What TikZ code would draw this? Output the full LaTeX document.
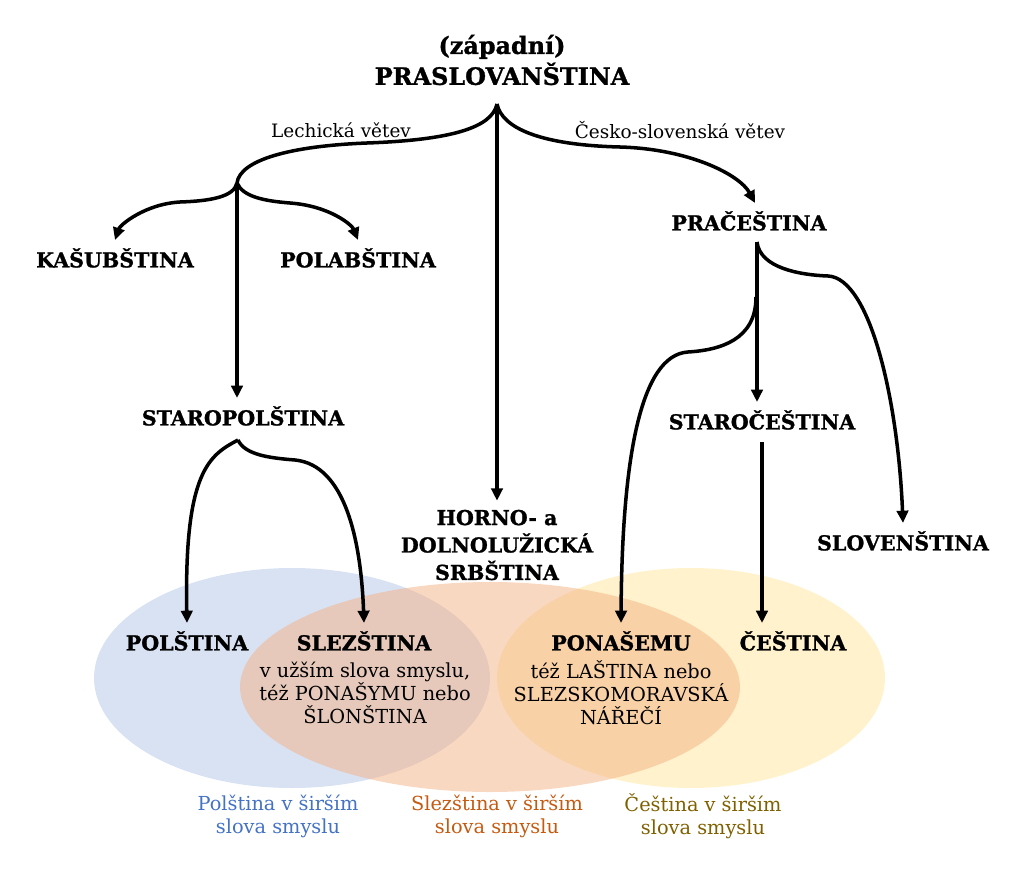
\documentclass[tikz,border=0pt]{standalone}
\usepackage{fontspec}
\setmainfont{DejaVu Serif}[BoldFeatures={FakeBold=1.2}]
\usetikzlibrary{arrows.meta}

\definecolor{polblue}{RGB}{217,226,243}
\definecolor{slezorange}{RGB}{244,177,131}
\definecolor{cesyellow}{RGB}{255,242,204}
\definecolor{poltext}{RGB}{68,114,196}
\definecolor{slezText}{RGB}{197,90,17}
\definecolor{cesText}{RGB}{127,96,0}

\begin{document}
\begin{tikzpicture}[x=0.02cm, y=-0.02cm,
    lang/.style={font=\bfseries\fontsize{11.7}{14}\selectfont, text height=8.4pt, text depth=0pt, inner xsep=2pt, inner ysep=7pt},
    block/.style={font=\bfseries\fontsize{11.7}{15.6}\selectfont, align=center, inner sep=5pt},
    note/.style={font=\fontsize{11}{13}\selectfont, align=center, inner sep=0pt},
    branchlabel/.style={font=\fontsize{10.5}{13}\selectfont, inner sep=0pt},
    stem/.style={line width=2pt},
    branch/.style={stem, -{Triangle[length=7pt, width=6.5pt]}}]
    \useasboundingbox (0,0) rectangle (1024,892);

    % the three wider areas
    \fill[polblue] (292,678) ellipse [x radius=198, y radius=110];
    \fill[cesyellow] (691,678) ellipse [x radius=194, y radius=110];
    \fill[slezorange, fill opacity=.5] (490,687) ellipse [x radius=250, y radius=105];

    \node[font=\bfseries\fontsize{13.6}{17.6}\selectfont, align=center] (proto) at (502,60) {(západní)\\PRASLOVANŠTINA};
    \coordinate (root) at (497,104);
    \coordinate (lech) at (237,183);
    \coordinate (czhub) at (757,242);
    \coordinate (czfork) at (756,297);
    \coordinate (polhub) at (238,440);

    \node[lang] (kasub) at (115,260) {KAŠUBŠTINA};
    \node[lang] (polab) at (358,260) {POLABŠTINA};
    \node[lang] (staropol) at (243,418) {STAROPOLŠTINA};
    \node[lang] (pracest) at (749,223) {PRAČEŠTINA};
    \node[lang] (starocest) at (762,422) {STAROČEŠTINA};
    \node[lang] (slovak) at (903,543) {SLOVENŠTINA};
    \node[block] (horno) at (497,545) {HORNO- a\\DOLNOLUŽICKÁ\\SRBŠTINA};
    \node[lang] (polish) at (187,643) {POLŠTINA};
    \node[lang] (slez) at (364,643) {SLEZŠTINA};
    \node[lang] (ponas) at (621,643) {PONAŠEMU};
    \node[lang] (czech) at (793,643) {ČEŠTINA};

    \node[note] (slezdesc) at (365,693) {v užším slova smyslu,\\též PONAŠYMU nebo\\ŠLONŠTINA};
    \node[note] (ponasdesc) at (621,693) {též LAŠTINA nebo\\SLEZSKOMORAVSKÁ\\NÁŘEČÍ};

    \node[branchlabel] (lechlab) at (341,130) {Lechická větev};
    \node[branchlabel] (czlab) at (680,130) {Česko-slovenská větev};

    \node[note, text=poltext] (polwide) at (278,816) {Polština v širším\\slova smyslu};
    \node[note, text=slezText] (slezwide) at (497,816) {Slezština v širším\\slova smyslu};
    \node[note, text=cesText] (ceswide) at (703,816) {Čeština v širším\\slova smyslu};

    % from the root
    \draw[stem] (root) .. controls (492,128) and (450,140) .. (367,143)
        .. controls (290,146) and (240,160) .. (lech);
    \draw[branch] (root) .. controls (502,128) and (540,145) .. (620,147)
        .. controls (690,149) and (740,175) .. (755,203);
    \draw[branch] (root) -- (horno.north);

    % lechic branch
    \draw[branch] (lech) .. controls (234,197) and (210,201) .. (180,202)
        .. controls (145,204) and (120,225) .. (kasub.north);
    \draw[branch] (lech) .. controls (243,197) and (265,201) .. (290,203)
        .. controls (330,206) and (352,225) .. (polab.north);
    \draw[branch] (lech) -- (lech |- staropol.north);

    \draw[branch] (polhub) .. controls (210,455) and (184,470) .. (polish.north);
    \draw[branch] (polhub) .. controls (245,455) and (270,458) .. (295,460)
        .. controls (345,465) and (361,540) .. (slez.north);

    % czech-slovak branch
    \draw[branch] (czhub) -- (czhub |- starocest.north);
    \draw[branch] (czhub) .. controls (760,268) and (800,275) .. (828,276)
        .. controls (870,278) and (898,400) .. (slovak.north);
    \draw[branch] (czfork) .. controls (756,340) and (720,350) .. (688,352)
        .. controls (640,355) and (622,460) .. (ponas.north);
    \draw[branch] (starocest.south) -- (starocest.south |- czech.north);
\end{tikzpicture}
\end{document}
